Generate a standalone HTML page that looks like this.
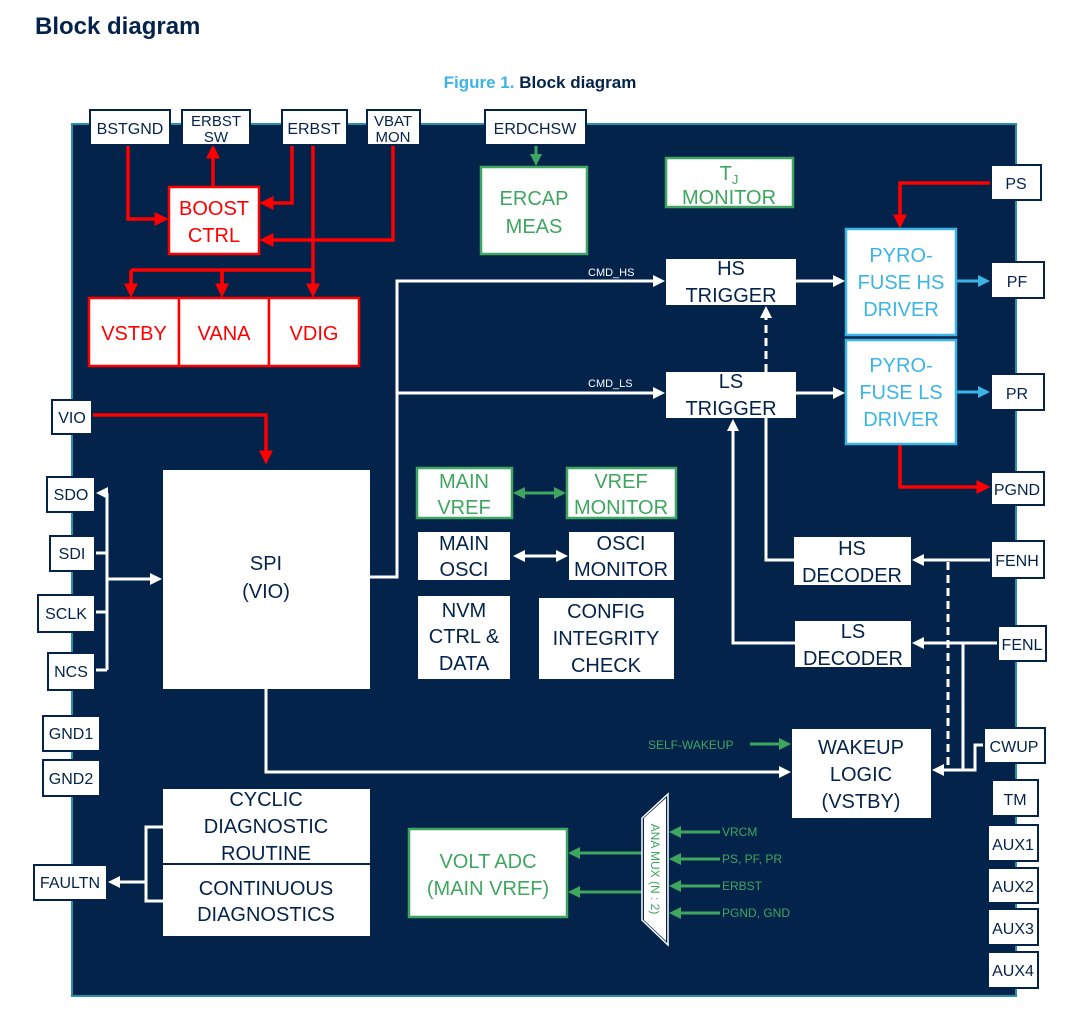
<!DOCTYPE html>
<html><head><meta charset="utf-8"><style>
body{margin:0;background:#fff;width:1080px;height:1023px;overflow:hidden}
svg{font-family:"Liberation Sans",Arial,sans-serif}
</style></head><body>
<svg width="1080" height="1023" viewBox="0 0 1080 1023" xmlns="http://www.w3.org/2000/svg">
<defs>
<marker id="r" markerWidth="4" markerHeight="4" refX="3" refY="2" orient="auto" markerUnits="strokeWidth"><path d="M0,0L4,2L0,4z" fill="#f00"/></marker>
<marker id="w" markerWidth="4" markerHeight="4" refX="3" refY="2" orient="auto-start-reverse" markerUnits="strokeWidth"><path d="M0,0L4,2L0,4z" fill="#fff"/></marker>
<marker id="g" markerWidth="4" markerHeight="4" refX="3" refY="2" orient="auto-start-reverse" markerUnits="strokeWidth"><path d="M0,0L4,2L0,4z" fill="#3fa65f"/></marker>
<marker id="b" markerWidth="4" markerHeight="4" refX="3" refY="2" orient="auto" markerUnits="strokeWidth"><path d="M0,0L4,2L0,4z" fill="#3cb4e6"/></marker>
</defs>
<text x="35" y="34" font-size="24" font-weight="bold" fill="#03234b">Block diagram</text>
<text x="540" y="88" font-size="17" font-weight="bold" text-anchor="middle"><tspan fill="#3cb4e6">Figure 1. </tspan><tspan fill="#03234b">Block diagram</tspan></text>
<rect x="72" y="124" width="944" height="872" fill="#03234b" stroke="#2a8fa8" stroke-width="2"/>

<g fill="none" stroke="#f00" stroke-width="3.5">
<path d="M128,146V219H165" marker-end="url(#r)"/>
<path d="M213,187V148" marker-end="url(#r)"/>
<path d="M292,146V203H263" marker-end="url(#r)"/>
<path d="M393,146V240H263" marker-end="url(#r)"/>
<path d="M313,146V294" marker-end="url(#r)"/>
<path d="M131,270H313M131,270V294M222,270V294"/>
<path d="M131,270V294" marker-end="url(#r)"/><path d="M222,270V294" marker-end="url(#r)"/>
<path d="M991,183H900V225" marker-end="url(#r)"/>
<path d="M900,444V487H987" marker-end="url(#r)"/>
<path d="M92,415H266V461" marker-end="url(#r)"/>
</g>

<g fill="none" stroke="#fff" stroke-width="3">
<path d="M370,577H397V281H662" marker-end="url(#w)"/>
<path d="M397,393H662" marker-end="url(#w)"/>
<path d="M796,281H842" marker-end="url(#w)"/>
<path d="M796,393H842" marker-end="url(#w)"/>
<path d="M766,372V309" stroke-dasharray="8,5" marker-end="url(#w)"/>
<path d="M794,560H766V418"/>
<path d="M795,643H733V422" marker-end="url(#w)"/>
<path d="M991,560H915" marker-end="url(#w)"/>
<path d="M998,643H915" marker-end="url(#w)"/>
<path d="M948,562V770" stroke-dasharray="8,5"/>
<path d="M963,643V770"/>
<path d="M984,745H975V770H935" marker-end="url(#w)"/>
<path d="M266,689V772H788" marker-end="url(#w)"/>
<path d="M107,493H99" marker-end="url(#w)"/>
<path d="M107,493V670M95,553H107M95,612H107M95,670H107"/>
<path d="M107,579H159" marker-end="url(#w)"/>
<path d="M516,556H565" marker-start="url(#w)" marker-end="url(#w)"/>
<path d="M163,827H146V901H163"/>
<path d="M146,882H111" marker-end="url(#w)"/>
</g>
<g fill="none" stroke="#3fa65f" stroke-width="3">
<path d="M536,146V163" marker-end="url(#g)"/>
<path d="M516,493H563" marker-start="url(#g)" marker-end="url(#g)"/>
<path d="M750,744H788" marker-end="url(#g)"/>
<path d="M642,853H571" marker-end="url(#g)"/>
<path d="M642,892H571" marker-end="url(#g)"/>
<path d="M720,832H672" marker-end="url(#g)"/>
<path d="M720,859H672" marker-end="url(#g)"/>
<path d="M720,886H672" marker-end="url(#g)"/>
<path d="M720,913H672" marker-end="url(#g)"/>
</g>
<g fill="none" stroke="#3cb4e6" stroke-width="3">
<path d="M956,281H987" marker-end="url(#b)"/>
<path d="M956,392H987" marker-end="url(#b)"/>
</g>

<!-- pins -->
<g fill="#fff" stroke="#03234b" stroke-width="2">
<rect x="90" y="110" width="80" height="35"/><rect x="182" y="110" width="68" height="35"/>
<rect x="282" y="110" width="65" height="35"/><rect x="367" y="110" width="53" height="35"/>
<rect x="485" y="110" width="101" height="35"/>
<rect x="991" y="165" width="50" height="35"/><rect x="991" y="262" width="53" height="36"/>
<rect x="991" y="374" width="53" height="36"/><rect x="991" y="472" width="53" height="33"/>
<rect x="991" y="541" width="53" height="37"/><rect x="998" y="626" width="48" height="35"/>
<rect x="984" y="728" width="61" height="35"/><rect x="992" y="780" width="46" height="36"/>
<rect x="988" y="825" width="50" height="36"/><rect x="988" y="868" width="50" height="35"/>
<rect x="988" y="909" width="50" height="36"/><rect x="988" y="952" width="50" height="36"/>
<rect x="52" y="400" width="40" height="34"/>
<rect x="47" y="477" width="48" height="35"/><rect x="50" y="536" width="45" height="35"/>
<rect x="38" y="595" width="57" height="37"/><rect x="48" y="653" width="47" height="37"/>
<rect x="43" y="716" width="57" height="35"/><rect x="43" y="760" width="57" height="36"/>
<rect x="34" y="865" width="73" height="35"/>
</g>
<g font-size="16" fill="#03234b" text-anchor="middle">
<text x="130" y="134">BSTGND</text><text x="216" y="126" font-size="15">ERBST</text><text x="216" y="142" font-size="15">SW</text>
<text x="314" y="134">ERBST</text><text x="393" y="126" font-size="15">VBAT</text><text x="393" y="142" font-size="15">MON</text>
<text x="535" y="134">ERDCHSW</text>
<text x="1016" y="189">PS</text><text x="1017" y="287">PF</text><text x="1017" y="399">PR</text>
<text x="1017" y="495">PGND</text><text x="1017" y="566">FENH</text><text x="1022" y="650">FENL</text>
<text x="1014" y="752">CWUP</text><text x="1015" y="805">TM</text>
<text x="1013" y="850">AUX1</text><text x="1013" y="892">AUX2</text><text x="1013" y="934">AUX3</text><text x="1013" y="976">AUX4</text>
<text x="72" y="423">VIO</text><text x="71" y="500">SDO</text><text x="72" y="559">SDI</text>
<text x="66" y="619">SCLK</text><text x="71" y="677">NCS</text>
<text x="71" y="739">GND1</text><text x="71" y="784">GND2</text><text x="70" y="888">FAULTN</text>
</g>

<!-- red blocks -->
<g fill="#fff" stroke="#f00" stroke-width="2.5">
<rect x="169" y="187" width="90" height="67"/>
<rect x="89" y="298" width="90" height="68"/><rect x="179" y="298" width="90" height="68"/><rect x="269" y="298" width="90" height="68"/>
</g>
<g font-size="20" fill="#f00" text-anchor="middle">
<text x="214" y="215">BOOST</text><text x="214" y="242">CTRL</text>
<text x="134" y="340">VSTBY</text><text x="224" y="340">VANA</text><text x="314" y="340">VDIG</text>
</g>

<!-- green blocks -->
<g fill="#fff" stroke="#3fa65f" stroke-width="2.5">
<rect x="481" y="167" width="106" height="87"/><rect x="666" y="158" width="127" height="49"/>
<rect x="417" y="468" width="95" height="50"/><rect x="567" y="468" width="109" height="50"/>
<rect x="409" y="829" width="158" height="88"/>
</g>
<path d="M642,818L668,794V945L642,920Z" fill="#03234b" stroke="#fff" stroke-width="1.5"/>
<path d="M644,818L666,798V941L644,920Z" fill="#fff"/>
<g font-size="20" fill="#3fa65f" text-anchor="middle">
<text x="534" y="205">ERCAP</text><text x="534" y="233">MEAS</text>
<text x="729" y="180">T<tspan font-size="13" dy="4">J</tspan></text><text x="729" y="204">MONITOR</text>
<text x="464" y="488">MAIN</text><text x="464" y="514">VREF</text>
<text x="621" y="488">VREF</text><text x="621" y="514">MONITOR</text>
<text x="488" y="868">VOLT ADC</text><text x="488" y="895">(MAIN VREF)</text>
</g>
<text transform="translate(651,869) rotate(90)" font-size="12" fill="#3fa65f" text-anchor="middle">ANA MUX (N : 2)</text>
<g font-size="12" fill="#3fa65f">
<text x="648" y="749">SELF-WAKEUP</text>
<text x="722" y="836">VRCM</text><text x="722" y="863">PS, PF, PR</text>
<text x="722" y="890">ERBST</text><text x="722" y="917">PGND, GND</text>
</g>

<!-- blue blocks -->
<g fill="#fff" stroke="#3cb4e6" stroke-width="2.5">
<rect x="846" y="229" width="110" height="106"/><rect x="846" y="340" width="110" height="104"/>
</g>
<g font-size="20" fill="#3cb4e6" text-anchor="middle">
<text x="901" y="262">PYRO-</text><text x="901" y="289">FUSE HS</text><text x="901" y="316">DRIVER</text>
<text x="901" y="372">PYRO-</text><text x="901" y="399">FUSE LS</text><text x="901" y="426">DRIVER</text>
</g>

<!-- white blocks -->
<g fill="#fff">
<rect x="666" y="259" width="130" height="46"/><rect x="666" y="372" width="130" height="46"/>
<rect x="163" y="470" width="207" height="219"/>
<rect x="418" y="532" width="92" height="48"/><rect x="569" y="532" width="105" height="48"/>
<rect x="418" y="596" width="92" height="83"/><rect x="539" y="598" width="135" height="81"/>
<rect x="794" y="537" width="117" height="48"/><rect x="795" y="621" width="116" height="46"/>
<rect x="792" y="729" width="139" height="89"/>
<rect x="163" y="789" width="207" height="74"/><rect x="163" y="865" width="207" height="71"/>
</g>
<g font-size="20" fill="#03234b" text-anchor="middle">
<text x="731" y="275">HS</text><text x="731" y="302">TRIGGER</text>
<text x="731" y="388">LS</text><text x="731" y="415">TRIGGER</text>
<text x="266" y="570">SPI</text><text x="266" y="598">(VIO)</text>
<text x="464" y="550">MAIN</text><text x="464" y="576">OSCI</text>
<text x="621" y="550">OSCI</text><text x="621" y="576">MONITOR</text>
<text x="464" y="617">NVM</text><text x="464" y="643">CTRL &amp;</text><text x="464" y="670">DATA</text>
<text x="606" y="618">CONFIG</text><text x="606" y="645">INTEGRITY</text><text x="606" y="672">CHECK</text>
<text x="852" y="555">HS</text><text x="852" y="582">DECODER</text>
<text x="853" y="638">LS</text><text x="853" y="665">DECODER</text>
<text x="861" y="754">WAKEUP</text><text x="861" y="781">LOGIC</text><text x="861" y="808">(VSTBY)</text>
<text x="266" y="806">CYCLIC</text><text x="266" y="833">DIAGNOSTIC</text><text x="266" y="860">ROUTINE</text>
<text x="266" y="895">CONTINUOUS</text><text x="266" y="921">DIAGNOSTICS</text>
</g>
<g font-size="11" fill="#fff">
<text x="588" y="276">CMD_HS</text><text x="588" y="387">CMD_LS</text>
</g>
</svg>
</body></html>
